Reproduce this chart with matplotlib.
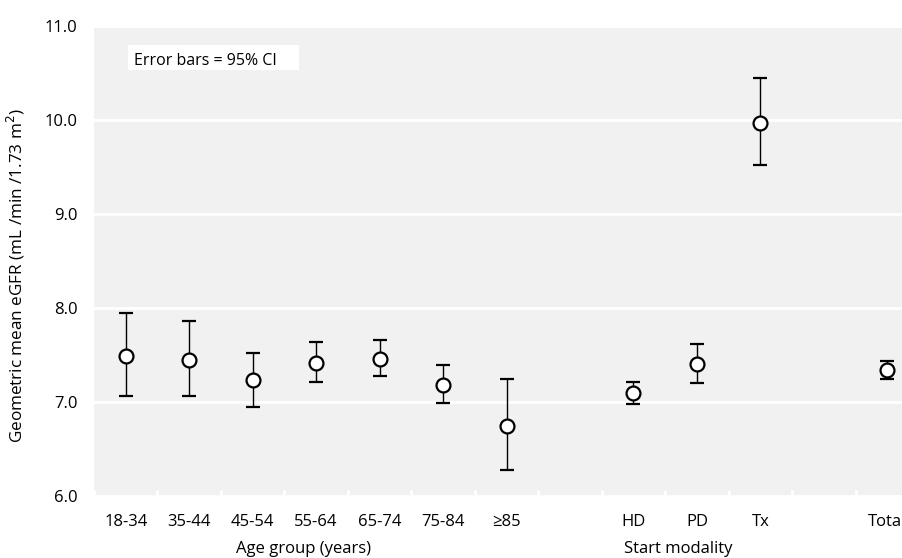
import numpy as np
import matplotlib
matplotlib.use("Agg")
import matplotlib.pyplot as plt
from matplotlib.patches import Rectangle

# =========================
# DATA
# =========================
categories = ["18-34", "35-44", "45-54", "55-64", "65-74", "75-84", "\u226585",
              "", "HD", "PD", "Tx", "", "Total"]
means = [7.49, 7.45, 7.23, 7.42, 7.46, 7.18, 6.75,
         np.nan, 7.10, 7.40, 9.97, np.nan, 7.34]
ci_low = [7.06, 7.06, 6.95, 7.21, 7.28, 6.99, 6.28,
          np.nan, 6.98, 7.20, 9.52, np.nan, 7.24]
ci_high = [7.95, 7.86, 7.52, 7.64, 7.66, 7.39, 7.25,
           np.nan, 7.21, 7.62, 10.45, np.nan, 7.44]
group_labels = ["Age group (years)", "Start modality"]
group_pos = [2.8, 8.7]
yticks = [6.0, 7.0, 8.0, 9.0, 10.0, 11.0]

plt.rcParams["font.family"] = ["Open Sans", "DejaVu Sans"]

x = np.arange(len(categories))
means = np.array(means)
err = np.vstack([means - np.array(ci_low), np.array(ci_high) - means])

fig = plt.figure(figsize=(9.02, 5.58), dpi=100)
# right edge runs past the figure, as in the reference (Total is cut)
ax = fig.add_axes([94 / 902, 62 / 558, (919 - 94) / 902, (496 - 26) / 558])
ax.set_facecolor("#f1f1f1")

ax.errorbar(x, means, yerr=err, fmt="o", color="black", ecolor="black",
            elinewidth=1, capsize=5, capthick=1,
            markersize=10, markerfacecolor="white", markeredgecolor="black",
            markeredgewidth=1.6, zorder=3)

ax.set_xlim(-0.5, len(categories) - 0.5)
ax.set_ylim(6, 11)
ax.set_yticks(yticks)
ax.set_yticklabels([f"{v:.1f}" for v in yticks])
ax.yaxis.grid(True, color="white", linewidth=2)
ax.set_axisbelow(True)

ax.set_xticks(x)
ax.set_xticklabels(categories)
ax.set_xticks(np.arange(-0.5, len(categories)), minor=True)
ax.tick_params(axis="x", which="major", length=0, pad=13, labelsize=12)
ax.tick_params(axis="x", which="minor", direction="in", length=4, width=2,
               color="white")
ax.tick_params(axis="y", length=0, pad=12, labelsize=12)
for s in ax.spines.values():
    s.set_visible(False)

for lab, gx in zip(group_labels, group_pos):
    ax.text(gx, -0.113, lab, transform=ax.get_xaxis_transform(),
            ha="center", va="center", fontsize=12)

ax.set_ylabel("Geometric mean eGFR (mL /min /1.73 m$^2$)", fontsize=12.3)
ax.yaxis.set_label_coords(-0.081, 0.468)

# note box
ax.add_patch(Rectangle((0.041, 0.906), 0.207, 0.054,
                       transform=ax.transAxes, facecolor="white",
                       edgecolor="none", zorder=2))
ax.text(0.049, 0.926, "Error bars = 95% CI", transform=ax.transAxes,
        ha="left", va="center", fontsize=11.5, zorder=4)

fig.savefig("out.png", dpi=100)
